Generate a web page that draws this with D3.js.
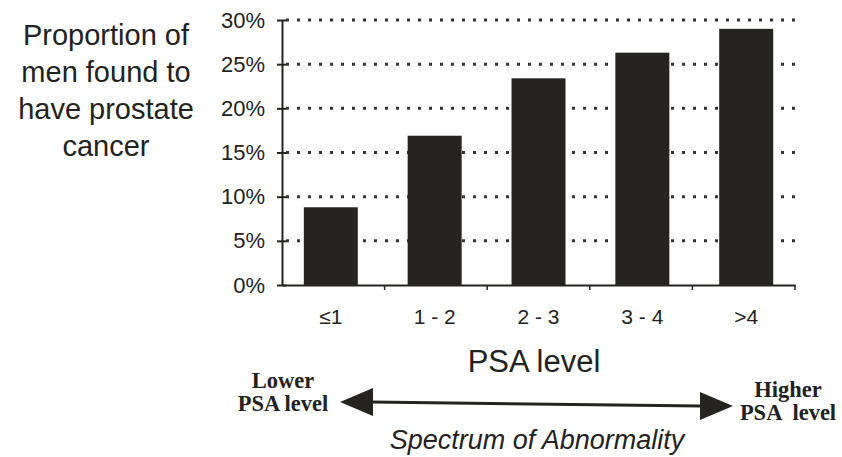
<!DOCTYPE html>
<html>
<head>
<meta charset="utf-8">
<script src="https://cdn.jsdelivr.net/npm/d3@7"></script>
<style>
  body { margin: 0; background: #fff; }
  svg { display: block; }
  text { fill: #222; }
</style>
</head>
<body>
<svg id="chart" width="842" height="457"></svg>
<script>
// data
var categories = ['≤1', '1 - 2', '2 - 3', '3 - 4', '>4'];
var proportion = [8.8, 16.9, 23.4, 26.3, 29.0];
var yTicks = [0, 5, 10, 15, 20, 25, 30];
var titleLines = ['Proportion of', 'men found to', 'have prostate', 'cancer'];
var lowerLines = ['Lower', 'PSA level'];
var higherLines = ['Higher', 'PSA  level'];

var svg = d3.select('#chart');
var ink = '#262421';

var x = d3.scaleBand()
    .domain(categories)
    .range([282, 795])
    .paddingInner(0.48)
    .paddingOuter(0.21);

var y = d3.scaleLinear()
    .domain([0, 30])
    .range([285, 20]);

// dotted gridlines
svg.append('g')
    .selectAll('line')
    .data(yTicks.filter(function(d) { return d > 0; }))
    .enter().append('line')
    .attr('x1', 286)
    .attr('x2', 797)
    .attr('y1', function(d) { return y(d); })
    .attr('y2', function(d) { return y(d); })
    .attr('stroke', '#333')
    .attr('stroke-width', 3)
    .attr('stroke-dasharray', '3,8');

// bars
svg.append('g')
    .selectAll('rect')
    .data(proportion)
    .enter().append('rect')
    .attr('x', function(d, i) { return x(categories[i]); })
    .attr('width', x.bandwidth())
    .attr('y', function(d) { return y(d); })
    .attr('height', function(d) { return y(0) - y(d); })
    .attr('fill', ink);

// y axis
var yAxis = d3.axisLeft(y)
    .tickValues(yTicks)
    .tickFormat(function(d) { return d + '%'; })
    .tickSizeInner(5)
    .tickSizeOuter(0)
    .tickPadding(12);

var gY = svg.append('g')
    .attr('transform', 'translate(282,0)')
    .call(yAxis);
gY.select('.domain').attr('stroke', ink).attr('stroke-width', 2);
gY.selectAll('.tick line').attr('x2', 4).attr('x1', -5).attr('stroke', ink).attr('stroke-width', 2);
gY.selectAll('.tick text')
    .attr('font-family', 'Liberation Sans, Arial, sans-serif')
    .attr('font-size', 22)
    .attr('fill', '#222');

// x axis line with boundary ticks
var xAxis = d3.axisBottom(x)
    .tickSize(0)
    .tickPadding(24);

var gX = svg.append('g')
    .attr('transform', 'translate(0,' + y(0) + ')')
    .call(xAxis);
gX.select('.domain').attr('stroke', ink).attr('stroke-width', 2);
gX.selectAll('.tick text')
    .attr('font-family', 'Liberation Sans, Arial, sans-serif')
    .attr('font-size', 21)
    .attr('fill', '#222');

gX.selectAll('line.sep')
    .data(categories)
    .enter().append('line')
    .attr('class', 'sep')
    .attr('x1', function(d, i) { return 282 + (i + 1) * (513 / 5); })
    .attr('x2', function(d, i) { return 282 + (i + 1) * (513 / 5); })
    .attr('y1', 0)
    .attr('y2', 5)
    .attr('stroke', ink)
    .attr('stroke-width', 1.5);

// axis title
svg.append('text')
    .attr('x', 534)
    .attr('y', 372)
    .attr('text-anchor', 'middle')
    .attr('font-family', 'Liberation Sans, Arial, sans-serif')
    .attr('font-size', 31)
    .text('PSA level');

// left title
svg.append('g')
    .selectAll('text')
    .data(titleLines)
    .enter().append('text')
    .attr('x', 106)
    .attr('y', function(d, i) { return 45 + i * 37; })
    .attr('text-anchor', 'middle')
    .attr('font-family', 'Liberation Sans, Arial, sans-serif')
    .attr('font-size', 29)
    .text(function(d) { return d; });

// spectrum arrow
var arrow = { x1: 340, y1: 402, x2: 733, y2: 406, head: 33, half: 14 };
svg.append('line')
    .attr('x1', arrow.x1 + arrow.head - 2)
    .attr('y1', arrow.y1)
    .attr('x2', arrow.x2 - arrow.head + 2)
    .attr('y2', arrow.y2)
    .attr('stroke', ink)
    .attr('stroke-width', 3);
svg.append('path')
    .attr('d', d3.line()([[arrow.x1, arrow.y1], [arrow.x1 + arrow.head, arrow.y1 - arrow.half], [arrow.x1 + arrow.head, arrow.y1 + arrow.half]]) + 'Z')
    .attr('fill', ink);
svg.append('path')
    .attr('d', d3.line()([[arrow.x2, arrow.y2], [arrow.x2 - arrow.head, arrow.y2 - arrow.half], [arrow.x2 - arrow.head, arrow.y2 + arrow.half]]) + 'Z')
    .attr('fill', ink);

svg.append('g')
    .selectAll('text')
    .data(lowerLines)
    .enter().append('text')
    .attr('x', 283)
    .attr('y', function(d, i) { return 388 + i * 23; })
    .attr('text-anchor', 'middle')
    .attr('font-family', 'Liberation Serif, Times New Roman, serif')
    .attr('font-weight', 'bold')
    .attr('font-size', 22.5)
    .text(function(d) { return d; });

svg.append('g')
    .selectAll('text')
    .data(higherLines)
    .enter().append('text')
    .attr('x', 788)
    .attr('y', function(d, i) { return 397 + i * 23; })
    .attr('text-anchor', 'middle')
    .attr('font-family', 'Liberation Serif, Times New Roman, serif')
    .attr('font-weight', 'bold')
    .attr('font-size', 22.5)
    .style('white-space', 'pre')
    .text(function(d) { return d; });

svg.append('text')
    .attr('x', 537)
    .attr('y', 449)
    .attr('text-anchor', 'middle')
    .attr('font-family', 'Liberation Sans, Arial, sans-serif')
    .attr('font-style', 'italic')
    .attr('font-size', 27)
    .text('Spectrum of Abnormality');
</script>
</body>
</html>
